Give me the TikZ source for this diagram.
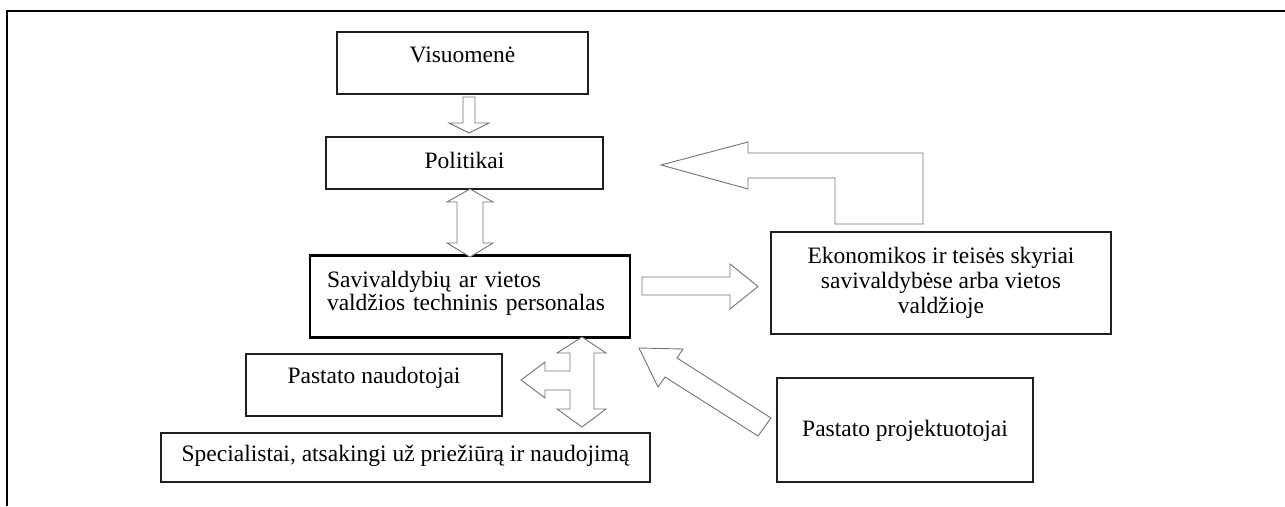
\documentclass[tikz,border=0pt]{standalone}
\usepackage{fontspec}
\setmainfont{Liberation Serif}
\begin{document}
\begin{tikzpicture}[x=1pt,y=-1pt,
  box/.style={draw=black!88, line width=1.1pt, inner sep=0pt, outer sep=0pt,
    font=\fontsize{23.5}{25}\selectfont, align=center, text=black},
  blockarr/.style={draw=black!55, line width=0.9pt, fill=white, line join=miter},
  frameline/.style={draw=black, line width=1.6pt}]
\useasboundingbox (0,0) rectangle (1285,506);
% frame
\draw[frameline] (6.7,506) -- (6.7,10.7) -- (1285,10.7);
% boxes
\node[box, minimum width=251pt, minimum height=62pt, text height=16pt, text depth=18pt] (vis) at (462.5,63) {Visuomenė};
\node[box, minimum width=277pt, minimum height=52pt, text height=16pt, text depth=6pt] (pol) at (464.5,163) {Politikai};
\node[box, line width=2.4pt, draw=black, minimum width=320pt, minimum height=82pt, text width=286pt, align=left,
  font=\fontsize{23.5}{23}\selectfont] (sav) at (470,296.5) {Savivaldybių ar vietos\\valdžios techninis personalas\par\vspace*{6pt}};
\node[box, minimum width=340pt, minimum height=102pt] (eko) at (941,283) {Ekonomikos ir teisės skyriai\\savivaldybėse arba vietos\\valdžioje};
\node[box, minimum width=256pt, minimum height=62pt, text height=16pt, text depth=20pt] (nau) at (374,385) {Pastato naudotojai};
\node[box, minimum width=489pt, minimum height=49pt, text height=16pt, text depth=9pt] (spe) at (405.5,457.5) {Specialistai, atsakingi už priežiūrą ir naudojimą};
\node[box, minimum width=256pt, minimum height=104pt, text height=16pt, text depth=4pt] (pro) at (905,430) {Pastato projektuotojai};
% block arrows
% Visuomene -> Politikai
\draw[blockarr] (463,97) -- (475,97) -- (475,123) -- (489,123) -- (469,133) -- (449,123) -- (463,123) -- cycle;
% Politikai <-> Savivaldybiu
\draw[blockarr] (470,189) -- (493,202) -- (483,202) -- (483,243) -- (493,243) -- (470,257)
  -- (447,243) -- (457,243) -- (457,202) -- (447,202) -- cycle;
% Savivaldybiu -> Ekonomikos
\draw[blockarr] (642,277) -- (730,277) -- (730,264) -- (758,286.5) -- (730,309) -- (730,295) -- (642,295) -- cycle;
% Ekonomikos -> Politikai (L-shaped)
\draw[blockarr] (661,165) -- (748,142) -- (748,153) -- (923,153) -- (923,224) -- (835,224)
  -- (835,178) -- (748,178) -- (748,189) -- cycle;
% Savivaldybiu -> naudotojai / specialistai
\draw[blockarr] (582,337) -- (606,353) -- (594,353) -- (594,409) -- (606,409) -- (582,427)
  -- (557,409) -- (570,409) -- (570,390) -- (545,390) -- (545,398) -- (521,380)
  -- (545,362) -- (545,371) -- (570,371) -- (570,353) -- (557,353) -- cycle;
% projektuotojai -> Savivaldybiu
\draw[blockarr] (639,348) -- (683,349) -- (677,358) -- (771,418) -- (758,436) -- (665,377) -- (658,387) -- cycle;
\end{tikzpicture}
\end{document}
